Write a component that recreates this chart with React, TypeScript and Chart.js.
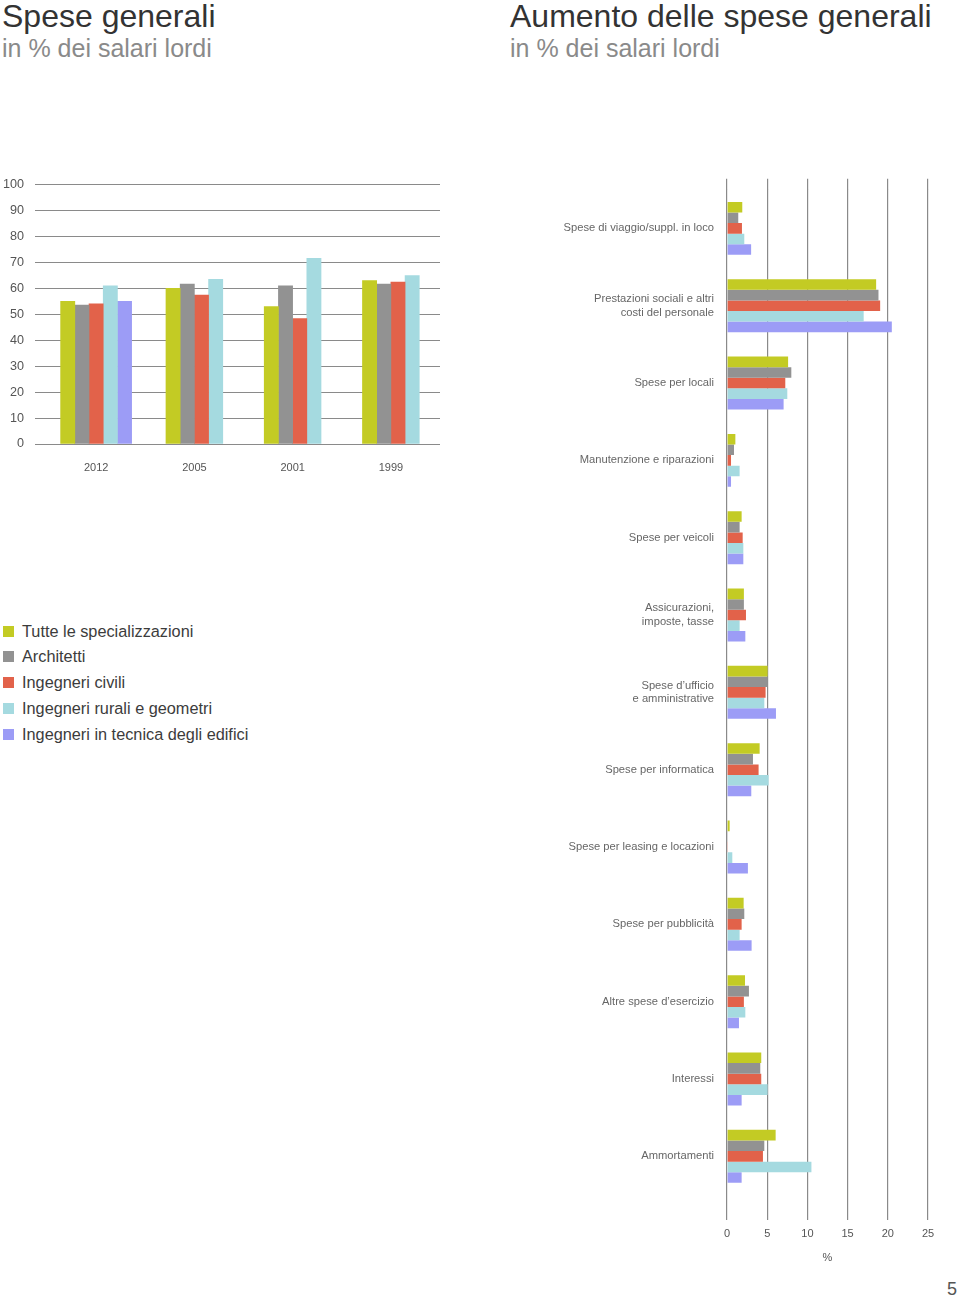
import React, { useEffect, useRef } from "react";
import { Chart, registerables } from "chart.js";

Chart.register(...registerables);

// ---------- data ----------
const seriesNames = [
  "Tutte le specializzazioni",
  "Architetti",
  "Ingegneri civili",
  "Ingegneri rurali e geometri",
  "Ingegneri in tecnica degli edifici",
];
const seriesColors = ["#c3cb24", "#929292", "#e2624a", "#a5dae0", "#9c9cf6"];

// left chart: overhead in % of gross salaries, by year
const years = ["2012", "2005", "2001", "1999"];
const leftTutte = [55, 60, 53, 63];
const leftArchitetti = [53.5, 61.6, 61, 61.6];
const leftCivili = [54, 57.4, 48.3, 62.4];
const leftRurali = [61, 63.5, 71.6, 64.9];
const leftEdifici = [55, null, null, null];
const leftTicks = [0, 100, 10];

// right chart: increase of overhead by cost type
const costTypes: (string | string[])[] = [
  "Spese di viaggio/suppl. in loco",
  ["Prestazioni sociali e altri", "costi del personale"],
  "Spese per locali",
  "Manutenzione e riparazioni",
  "Spese per veicoli",
  ["Assicurazioni,", "imposte, tasse"],
  ["Spese d’ufficio", "e amministrative"],
  "Spese per informatica",
  "Spese per leasing e locazioni",
  "Spese per pubblicità",
  "Altre spese d’esercizio",
  "Interessi",
  "Ammortamenti",
];
const rightTutte = [1.9, 18.55, 7.6, 1.04, 1.82, 2.1, 5.05, 4.06, 0.33, 2.07, 2.24, 4.26, 6.05];
const rightArchitetti = [1.4, 18.84, 8.0, 0.87, 1.57, 2.1, 5.05, 3.23, 0.1, 2.15, 2.73, 4.14, 4.64];
const rightCivili = [1.86, 19.05, 7.25, 0.5, 1.95, 2.36, 4.8, 3.93, 0.1, 1.82, 2.1, 4.26, 4.47];
const rightRurali = [2.15, 17.0, 7.5, 1.57, 2.03, 1.57, 4.64, 5.18, 0.66, 1.57, 2.28, 5.05, 10.5];
const rightEdifici = [3.0, 20.5, 7.04, 0.5, 2.03, 2.28, 6.09, 3.02, 2.6, 3.06, 1.49, 1.82, 1.82];
const rightTicks = [0, 25, 5];

const gridColor = "#8a8a8a";
const FONT = "'Liberation Sans', Arial, Helvetica, sans-serif";

function LeftChart() {
  const ref = useRef<HTMLCanvasElement>(null);
  useEffect(() => {
    const values = [leftTutte, leftArchitetti, leftCivili, leftRurali, leftEdifici];
    const chart = new Chart(ref.current!, {
      type: "bar",
      data: {
        labels: years,
        datasets: values.map((d, i) => ({
          label: seriesNames[i],
          data: d,
          backgroundColor: seriesColors[i],
          borderWidth: 0,
          barThickness: 14.2,
          skipNull: true,
        })),
      },
      options: {
        animation: false,
        responsive: false,
        plugins: { legend: { display: false }, tooltip: { enabled: false } },
        layout: { padding: { top: 14, right: 5, bottom: 0, left: 0 } },
        scales: {
          x: {
            grid: { display: false, drawTicks: false },
            border: { display: false },
            ticks: { padding: 17, color: "#555", font: { family: FONT, size: 11 } },
            afterFit: (s: any) => {
              s.height = 36;
            },
          },
          y: {
            min: leftTicks[0],
            max: leftTicks[1],
            ticks: {
              stepSize: leftTicks[2],
              padding: 11,
              color: "#555",
              font: { family: FONT, size: 12.6 },
            },
            grid: { color: gridColor, lineWidth: 1, drawTicks: true, tickLength: 12 },
            border: { display: false },
            afterFit: (s: any) => {
              s.width = 47;
            },
          },
        },
      },
    });
    return () => chart.destroy();
  }, []);
  return (
    <canvas
      ref={ref}
      width={445}
      height={314}
      style={{ position: "absolute", left: 0, top: 166, width: 445, height: 314 }}
    />
  );
}

function RightChart() {
  const ref = useRef<HTMLCanvasElement>(null);
  useEffect(() => {
    const values = [rightTutte, rightArchitetti, rightCivili, rightRurali, rightEdifici];
    const chart = new Chart(ref.current!, {
      type: "bar",
      data: {
        labels: costTypes,
        datasets: values.map((d, i) => ({
          label: seriesNames[i],
          data: d,
          backgroundColor: seriesColors[i],
          borderWidth: 0,
          categoryPercentage: 0.685,
          barPercentage: 1,
          xAxisID: "x",
        })),
      },
      options: {
        indexAxis: "y",
        animation: false,
        responsive: false,
        plugins: { legend: { display: false }, tooltip: { enabled: false } },
        layout: { padding: { top: 7.3, right: 32, bottom: 0, left: 0 } },
        scales: {
          x: {
            type: "linear",
            position: "bottom",
            min: rightTicks[0],
            max: rightTicks[1],
            ticks: {
              stepSize: rightTicks[2],
              padding: 7.5,
              color: "#555",
              font: { family: FONT, size: 11 },
            },
            grid: { color: gridColor, lineWidth: 1.2, drawTicks: true, tickLength: 25 },
            border: { display: false },
            title: {
              display: true,
              text: "%",
              color: "#555",
              font: { family: FONT, size: 11 },
              padding: { top: 4, bottom: 4 },
            },
            afterFit: (s: any) => {
              s.height = 74;
            },
          },
          x2: {
            type: "linear",
            position: "top",
            min: rightTicks[0],
            max: rightTicks[1],
            ticks: { stepSize: rightTicks[2], display: false },
            grid: {
              color: gridColor,
              lineWidth: 1.2,
              drawOnChartArea: false,
              drawTicks: true,
              tickLength: 11,
            },
            border: { display: false },
            afterFit: (s: any) => {
              s.height = 11;
            },
          },
          y: {
            grid: { display: false, drawTicks: false },
            border: { display: false },
            ticks: {
              padding: 13,
              color: "#666",
              font: { family: FONT, size: 11.2 },
            },
            afterFit: (s: any) => {
              s.width = 187;
            },
          },
        },
      },
    });
    return () => chart.destroy();
  }, []);
  return (
    <canvas
      ref={ref}
      width={420}
      height={1099}
      style={{ position: "absolute", left: 540, top: 170, width: 420, height: 1099 }}
    />
  );
}

export default function App() {
  const titleStyle: React.CSSProperties = {
    position: "absolute",
    top: 0,
    fontSize: 32,
    lineHeight: "32px",
    color: "#333",
    whiteSpace: "nowrap",
  };
  const subStyle: React.CSSProperties = {
    position: "absolute",
    top: 36,
    fontSize: 25,
    lineHeight: "25px",
    color: "#8a8a8a",
    whiteSpace: "nowrap",
  };
  return (
    <div
      style={{
        position: "absolute",
        left: 0,
        top: 0,
        width: 960,
        height: 1297,
        overflow: "hidden",
        background: "#fff",
        fontFamily: FONT,
      }}
    >
      <div style={{ ...titleStyle, left: 2 }}>Spese generali</div>
      <div style={{ ...subStyle, left: 2 }}>in % dei salari lordi</div>
      <div style={{ ...titleStyle, left: 510 }}>Aumento delle spese generali</div>
      <div style={{ ...subStyle, left: 510 }}>in % dei salari lordi</div>

      <LeftChart />
      <RightChart />

      {seriesNames.map((name, i) => (
        <div
          key={name}
          style={{
            position: "absolute",
            left: 3,
            top: 618 + i * 25.8,
            height: 26,
            display: "flex",
            alignItems: "center",
            fontSize: 16.3,
            color: "#3c3c3c",
            whiteSpace: "nowrap",
          }}
        >
          <span
            style={{
              display: "inline-block",
              width: 11,
              height: 11,
              background: seriesColors[i],
              marginRight: 8,
            }}
          />
          {name}
        </div>
      ))}

      <div
        style={{
          position: "absolute",
          right: 3,
          top: 1280,
          fontSize: 18,
          lineHeight: "18px",
          color: "#555",
        }}
      >
        5
      </div>
    </div>
  );
}
